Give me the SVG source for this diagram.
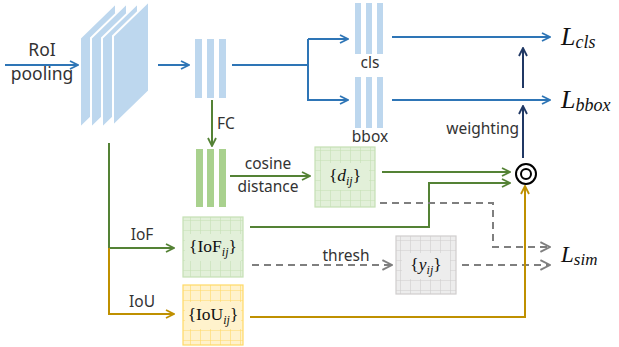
<svg xmlns="http://www.w3.org/2000/svg" width="619" height="347" viewBox="0 0 619 347">
<style>
.lbl{font-family:"Noto Sans","Liberation Sans",sans-serif;font-size:15.5px;fill:#333;}
.big{font-size:17.5px;}
.math{font-family:"Liberation Serif","DejaVu Serif",serif;fill:#111;}
.blue{stroke:#2e75b6;stroke-width:2;fill:none;}
.green{stroke:#548235;stroke-width:2;fill:none;}
.gold{stroke:#bf9000;stroke-width:2;fill:none;}
.navy{stroke:#203864;stroke-width:2;fill:none;}
.dash{stroke:#7f7f7f;stroke-width:2;fill:none;stroke-dasharray:7,5;}
.bbar{fill:#bdd7ee;}
.gbar{fill:#a9d18e;}
.fm{fill:#bdd7ee;stroke:#fff;stroke-width:2;}
</style>
<defs>
<marker id="mb" viewBox="0 0 10 10" refX="9" refY="5" markerWidth="10" markerHeight="10" markerUnits="userSpaceOnUse" orient="auto"><path d="M1,1 L9,5 L1,9" fill="none" stroke="#2e75b6" stroke-width="1.8"/></marker>
<marker id="mg" viewBox="0 0 10 10" refX="9" refY="5" markerWidth="10" markerHeight="10" markerUnits="userSpaceOnUse" orient="auto"><path d="M1,1 L9,5 L1,9" fill="none" stroke="#548235" stroke-width="1.8"/></marker>
<marker id="my" viewBox="0 0 10 10" refX="9" refY="5" markerWidth="10" markerHeight="10" markerUnits="userSpaceOnUse" orient="auto"><path d="M1,1 L9,5 L1,9" fill="none" stroke="#bf9000" stroke-width="1.8"/></marker>
<marker id="mn" viewBox="0 0 10 10" refX="9" refY="5" markerWidth="10" markerHeight="10" markerUnits="userSpaceOnUse" orient="auto"><path d="M1,1 L9,5 L1,9" fill="none" stroke="#203864" stroke-width="1.8"/></marker>
<marker id="md" viewBox="0 0 10 10" refX="9" refY="5" markerWidth="12" markerHeight="12" markerUnits="userSpaceOnUse" orient="auto"><path d="M1,1 L9,5 L1,9" fill="none" stroke="#7f7f7f" stroke-width="1.6"/></marker>
<pattern id="pg" width="10" height="10" patternUnits="userSpaceOnUse"><rect width="10" height="10" fill="#e2f0d9"/><path d="M0,0 H10 M0,0 V10" stroke="#c5e0b4" stroke-width="1.2"/></pattern>
<pattern id="py" width="10" height="10" patternUnits="userSpaceOnUse"><rect width="10" height="10" fill="#fff2cc"/><path d="M0,0 H10 M0,0 V10" stroke="#ffd966" stroke-width="1.2"/></pattern>
<pattern id="pa" width="10" height="10" patternUnits="userSpaceOnUse"><rect width="10" height="10" fill="#ededed"/><path d="M0,0 H10 M0,0 V10" stroke="#d0cece" stroke-width="1.2"/></pattern>
</defs>
<rect width="619" height="347" fill="#ffffff"/>

<g id="roi-label">
<text class="lbl big" x="42" y="56" text-anchor="middle">RoI</text>
<text class="lbl big" x="42" y="80" text-anchor="middle">pooling</text>
</g>

<g id="feature-maps">
<polygon class="fm" points="80,38 116,3 116,93 80,128"/>
<polygon class="fm" points="91,38 127,3 127,93 91,128"/>
<polygon class="fm" points="102,38 138,3 138,93 102,128"/>
<polygon class="fm" points="113,36 149,1 149,91 113,126"/>
</g>

<g id="fc-blue">
<rect class="bbar" x="195" y="39" width="7" height="59"/>
<rect class="bbar" x="207" y="39" width="7" height="59"/>
<rect class="bbar" x="219" y="39" width="7" height="59"/>
</g>

<g id="cls">
<rect class="bbar" x="355" y="3" width="6" height="51"/>
<rect class="bbar" x="366" y="3" width="6" height="51"/>
<rect class="bbar" x="377" y="3" width="6" height="51"/>
<text class="lbl" x="370" y="68" text-anchor="middle">cls</text>
</g>

<g id="bbox">
<rect class="bbar" x="355" y="77" width="6" height="51"/>
<rect class="bbar" x="366" y="77" width="6" height="51"/>
<rect class="bbar" x="377" y="77" width="6" height="51"/>
<text class="lbl" x="370" y="142" text-anchor="middle">bbox</text>
</g>

<g id="L-cls"><text class="math" x="561" y="45" font-style="italic" font-size="26">L<tspan font-size="18" dy="3">cls</tspan></text></g>
<g id="L-bbox"><text class="math" x="561" y="108" font-style="italic" font-size="26">L<tspan font-size="18" dy="3">bbox</tspan></text></g>
<g id="L-sim"><text class="math" x="561" y="262" font-style="italic" font-size="23">L<tspan font-size="17" dy="3">sim</tspan></text></g>

<g id="fc-green">
<rect class="gbar" x="196" y="149" width="7" height="58"/>
<rect class="gbar" x="207" y="149" width="7" height="58"/>
<rect class="gbar" x="219" y="149" width="7" height="58"/>
</g>

<g id="d-matrix">
<rect x="315" y="147" width="60" height="60" fill="url(#pg)" stroke="#c5e0b4" stroke-width="1.2"/>
<rect x="321" y="163" width="48" height="27" fill="#e2f0d9"/>
<text class="math" x="345" y="181" text-anchor="middle" font-size="17.5">{<tspan font-style="italic">d</tspan><tspan font-style="italic" font-size="12" dy="4">ij</tspan><tspan dy="-4">}</tspan></text>
</g>

<g id="iof-matrix">
<rect x="183" y="217" width="60" height="60" fill="url(#pg)" stroke="#c5e0b4" stroke-width="1.2"/>
<rect x="185" y="234" width="56" height="27" fill="#e2f0d9"/>
<text class="math" x="213" y="252" text-anchor="middle" font-size="17.5">{IoF<tspan font-style="italic" font-size="12" dy="4">ij</tspan><tspan dy="-4">}</tspan></text>
</g>

<g id="iou-matrix">
<rect x="183" y="285" width="60" height="60" fill="url(#py)" stroke="#ffd966" stroke-width="1.2"/>
<rect x="185" y="302" width="56" height="27" fill="#fff2cc"/>
<text class="math" x="213" y="320" text-anchor="middle" font-size="17.5">{IoU<tspan font-style="italic" font-size="12" dy="4">ij</tspan><tspan dy="-4">}</tspan></text>
</g>

<g id="y-matrix">
<rect x="396" y="236" width="60" height="58" fill="url(#pa)" stroke="#d0cece" stroke-width="1.2"/>
<rect x="402" y="253" width="48" height="26" fill="#ededed"/>
<text class="math" x="426" y="270" text-anchor="middle" font-size="17.5">{<tspan font-style="italic">y</tspan><tspan font-style="italic" font-size="12" dy="4">ij</tspan><tspan dy="-4">}</tspan></text>
</g>

<g id="op">
<circle cx="526" cy="174" r="10" fill="#fff" stroke="#000" stroke-width="2"/>
<circle cx="526" cy="174" r="5" fill="none" stroke="#000" stroke-width="2"/>
</g>

<g id="connectors">
<line class="blue" x1="5" y1="65" x2="78" y2="65" marker-end="url(#mb)"/>
<line class="blue" x1="158" y1="65" x2="189" y2="65" marker-end="url(#mb)"/>
<line class="blue" x1="232" y1="65" x2="308" y2="65"/>
<polyline class="blue" points="308,39 308,100 348,100" marker-end="url(#mb)"/>
<line class="blue" x1="308" y1="39" x2="348" y2="39" marker-end="url(#mb)"/>
<line class="blue" x1="392" y1="37" x2="550" y2="37" marker-end="url(#mb)"/>
<line class="blue" x1="392" y1="100" x2="550" y2="100" marker-end="url(#mb)"/>
<line class="navy" x1="523" y1="88" x2="523" y2="48" marker-end="url(#mn)"/>
<line class="navy" x1="523" y1="158" x2="523" y2="106" marker-end="url(#mn)"/>
<text class="lbl" x="519" y="134" text-anchor="end">weighting</text>
<line class="green" x1="212" y1="100" x2="212" y2="146" marker-end="url(#mg)"/>
<text class="lbl" x="217" y="129">FC</text>
<line class="green" x1="230" y1="176" x2="310" y2="176" marker-end="url(#mg)"/>
<text class="lbl" x="268" y="169" text-anchor="middle">cosine</text>
<text class="lbl" x="268" y="192" text-anchor="middle">distance</text>
<line class="green" x1="382" y1="172" x2="510" y2="172" marker-end="url(#mg)"/>
<polyline class="green" points="250,227 429,227 429,183 510,183" marker-end="url(#mg)"/>
<polyline class="dash" points="380,203 493,203 493,247 550,247" marker-end="url(#md)"/>
<line class="dash" x1="252" y1="265" x2="392" y2="265" marker-end="url(#md)"/>
<text class="lbl" x="346" y="261" text-anchor="middle">thresh</text>
<line class="dash" x1="462" y1="265" x2="550" y2="265" marker-end="url(#md)"/>
<line class="green" x1="109" y1="143" x2="109" y2="248"/>
<line class="green" x1="109" y1="248" x2="174" y2="248" marker-end="url(#mg)"/>
<text class="lbl" x="142" y="240" text-anchor="middle">IoF</text>
<polyline class="gold" points="109,248 109,314 174,314" marker-end="url(#my)"/>
<text class="lbl" x="142" y="307" text-anchor="middle">IoU</text>
<polyline class="gold" points="250,317 525,317 525,186" marker-end="url(#my)"/>
</g>
</svg>
